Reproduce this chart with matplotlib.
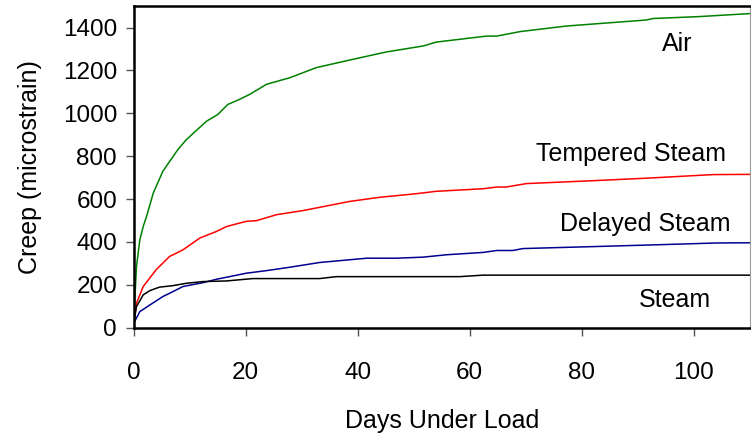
import matplotlib
matplotlib.use("Agg")
import matplotlib.pyplot as plt

plt.rcParams['font.family'] = ['Liberation Sans', 'DejaVu Sans']

# creep curves (days, microstrain)
air_x = [0, 0.2, 0.5, 1.1, 1.7, 2.3, 3.5, 5.2, 7.9, 9.4, 13, 15, 16.8, 18.9, 20.7, 23.7,
         27.9, 32.6, 39.2, 45.1, 51.7, 54, 63, 64.8, 69, 77.3, 91.5, 92.7, 101, 110]
air_y = [20, 130, 285, 410, 472, 519, 628, 729, 831, 877, 963, 994, 1041, 1065, 1088, 1135,
         1166, 1213, 1252, 1286, 1314, 1332, 1360, 1360, 1381, 1407, 1435, 1442, 1451, 1465]

temp_x = [0, 0.5, 1.7, 4.0, 6.4, 8.8, 11.8, 14.8, 16.6, 20.1, 21.9, 25.5, 30.2, 38.6,
          43.9, 50.5, 54, 62.4, 64.8, 66.5, 70.1, 83.2, 92.1, 103.4, 110]
temp_y = [20, 114, 192, 270, 332, 363, 418, 449, 472, 496, 499, 527, 546, 589,
          608, 625, 636, 648, 656, 656, 672, 687, 698, 714, 715]

delay_x = [0, 1.1, 2.9, 5.2, 7.0, 8.8, 12.4, 14.8, 17.1, 20.1, 23.7, 27.9, 33.2, 41.6,
           46.9, 51.7, 55.8, 62.4, 64.8, 67.7, 69.5, 83.2, 93.9, 104, 110]
delay_y = [20, 75, 106, 145, 168, 192, 210, 226, 238, 254, 266, 282, 304, 324,
           324, 329, 340, 351, 360, 360, 369, 379, 387, 395, 396]

steam_x = [0, 0.5, 1.7, 2.9, 4.6, 7.0, 9.4, 12.4, 16.6, 21.3, 33.2, 36.2, 58.2, 62.4, 110]
steam_y = [20, 98, 153, 173, 189, 196, 207, 215, 218, 229, 229, 238, 238, 245, 245]

labels = ["Air", "Tempered Steam", "Delayed Steam", "Steam"]
label_pos = [(97.0, 1290), (88.7, 779), (91.4, 453), (96.6, 97)]

fig = plt.figure(figsize=(7.51, 4.34), dpi=100)
ax = fig.add_axes([0.178, 0.245, 0.8205, 0.741])

ax.plot(air_x, air_y, color='#008000', lw=1.1)
ax.plot(temp_x, temp_y, color='#ff0000', lw=1.1)
ax.plot(delay_x, delay_y, color='#000090', lw=1.1)
ax.plot(steam_x, steam_y, color='black', lw=1.1)

for txt, (tx, ty) in zip(labels, label_pos):
    ax.text(tx, ty, txt, fontsize=18, ha='center', va='baseline')

ax.set_xlim(0, 110)
ax.set_ylim(0, 1500)
ax.set_xticks(range(0, 101, 20))
ax.set_yticks(range(0, 1401, 200))
ax.tick_params(labelsize=17.5, direction='out', length=6, color='#555555', width=1)
ax.tick_params(axis='x', pad=19)
ax.tick_params(axis='y', pad=6)

for s in ['top', 'left', 'bottom']:
    ax.spines[s].set_linewidth(1.8)
    ax.spines[s].set_color('black')
ax.spines['right'].set_linewidth(0.8)
ax.spines['right'].set_color('#999999')

ax.set_xlabel("Days Under Load", fontsize=18, labelpad=18)
ax.set_ylabel("Creep (microstrain)", fontsize=18, labelpad=15)

fig.savefig("out.png", dpi=100)
